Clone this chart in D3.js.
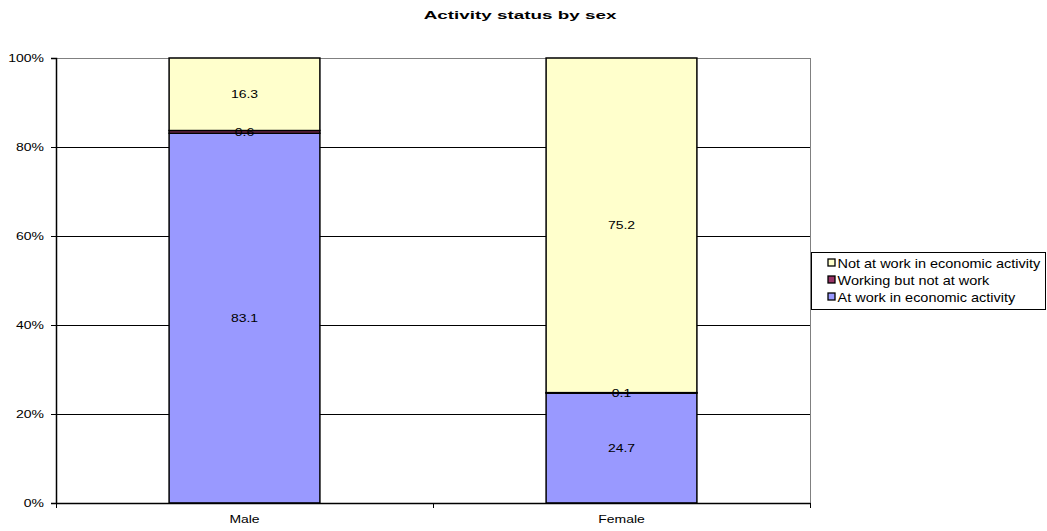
<!DOCTYPE html>
<html>
<head>
<meta charset="utf-8">
<script src="https://cdn.jsdelivr.net/npm/d3@7"></script>
<style>
  body { margin: 0; background: #fff; }
  text { font-family: Arial, "Liberation Sans", sans-serif; fill: #000; }
</style>
</head>
<body>
<svg id="chart" width="1047" height="531"></svg>
<script>
// data
const categories = ["Male", "Female"];
const seriesNames = ["At work in economic activity", "Working but not at work", "Not at work in economic activity"];
const atWork = [83.1, 24.7];
const workingNotAtWork = [0.6, 0.1];
const notAtWork = [16.3, 75.2];
const colors = ["#9999FF", "#993366", "#FFFFCC"];
const yTicks = [0, 20, 40, 60, 80, 100];

const svg = d3.select("#chart");
const plotLeft = 56, plotRight = 810, plotTop = 58, plotBottom = 503;
const stretch = 1.27; // the original text is drawn a bit wide

const x = d3.scaleBand().domain(categories).range([plotLeft, plotRight]).paddingInner(0).paddingOuter(0);
const y = d3.scaleLinear().domain([0, 100]).range([plotBottom, plotTop]);

function wideText(g, tx, ty, str, size, sx) {
  return g.append("text")
    .attr("transform", `translate(${tx},${ty}) scale(${sx || stretch},1)`)
    .style("font-size", size + "px")
    .text(str);
}

// title
wideText(svg, 520, 19, "Activity status by sex", 11.5, 1.64)
  .attr("text-anchor", "middle")
  .style("font-weight", "bold");

// gridlines
svg.append("g").selectAll("line")
  .data(yTicks.filter(d => d > 0))
  .enter().append("line")
  .attr("x1", plotLeft).attr("x2", plotRight)
  .attr("y1", d => Math.round(y(d)) + 0.5).attr("y2", d => Math.round(y(d)) + 0.5)
  .attr("stroke", d => d == 100 ? "#808080" : "#000")
  .attr("stroke-width", 1);

// right border of plot area
svg.append("line")
  .attr("x1", plotRight + 0.5).attr("x2", plotRight + 0.5).attr("y1", plotTop).attr("y2", plotBottom)
  .attr("stroke", "#808080");

// stacked bars
const rows = categories.map((c, i) => ({ cat: c, v: [atWork[i], workingNotAtWork[i], notAtWork[i]] }));
const barW = x.bandwidth() * 0.4;

rows.forEach(r => {
  let acc = 0;
  r.v.forEach((v, k) => {
    const y0 = acc, y1 = acc + v;
    acc = y1;
    svg.append("rect")
      .attr("x", x(r.cat) + (x.bandwidth() - barW) / 2)
      .attr("y", y(y1))
      .attr("width", barW)
      .attr("height", y(y0) - y(y1))
      .attr("fill", colors[k])
      .attr("stroke", "#000")
      .attr("stroke-width", 1.5);
  });
  acc = 0;
  r.v.forEach((v, k) => {
    const mid = acc + v / 2;
    acc += v;
    wideText(svg, x(r.cat) + x.bandwidth() / 2, y(mid), v.toFixed(1), 11)
      .attr("dy", "0.35em")
      .attr("text-anchor", "middle");
  });
});

// y axis
const yAxis = svg.append("g")
  .attr("transform", `translate(${plotLeft},0)`)
  .call(d3.axisLeft(y).tickValues(yTicks).tickFormat(d => d + "%").tickSize(5).tickPadding(4.5));
yAxis.select(".domain").attr("stroke", "#000").attr("stroke-width", 1.5);
yAxis.selectAll(".tick line").attr("stroke", "#000");
yAxis.selectAll("text")
  .style("font-size", "11px").style("font-family", "Arial, 'Liberation Sans', sans-serif")
  .attr("transform", `scale(${stretch},1)`);

// x axis
const xAxis = svg.append("g")
  .attr("transform", `translate(0,${plotBottom})`)
  .call(d3.axisBottom(x).tickSize(0).tickPadding(12));
xAxis.select(".domain").attr("stroke", "#000").attr("stroke-width", 1.5);
xAxis.selectAll("text")
  .style("font-size", "11px").style("font-family", "Arial, 'Liberation Sans', sans-serif")
  .attr("transform", `scale(${stretch},1)`);
svg.append("g").selectAll("line")
  .data([plotLeft, x("Female"), plotRight])
  .enter().append("line")
  .attr("x1", d => d + 0.5).attr("x2", d => d + 0.5)
  .attr("y1", plotBottom).attr("y2", plotBottom + 5)
  .attr("stroke", "#000");

// legend
const lg = svg.append("g").attr("transform", "translate(811.5,252.5)");
lg.append("rect").attr("width", 234).attr("height", 57)
  .attr("fill", "#fff").attr("stroke", "#000").attr("stroke-width", 1);
const legendOrder = [2, 1, 0];
legendOrder.forEach((k, i) => {
  const yy = 15 + i * 17;
  lg.append("rect").attr("x", 16.5).attr("y", yy - 8.5).attr("width", 7).attr("height", 7)
    .attr("fill", colors[k]).attr("stroke", "#000").attr("stroke-width", 1.3);
  wideText(lg, 26, yy, seriesNames[k], 12.5, 1.16);
});
</script>
</body>
</html>
